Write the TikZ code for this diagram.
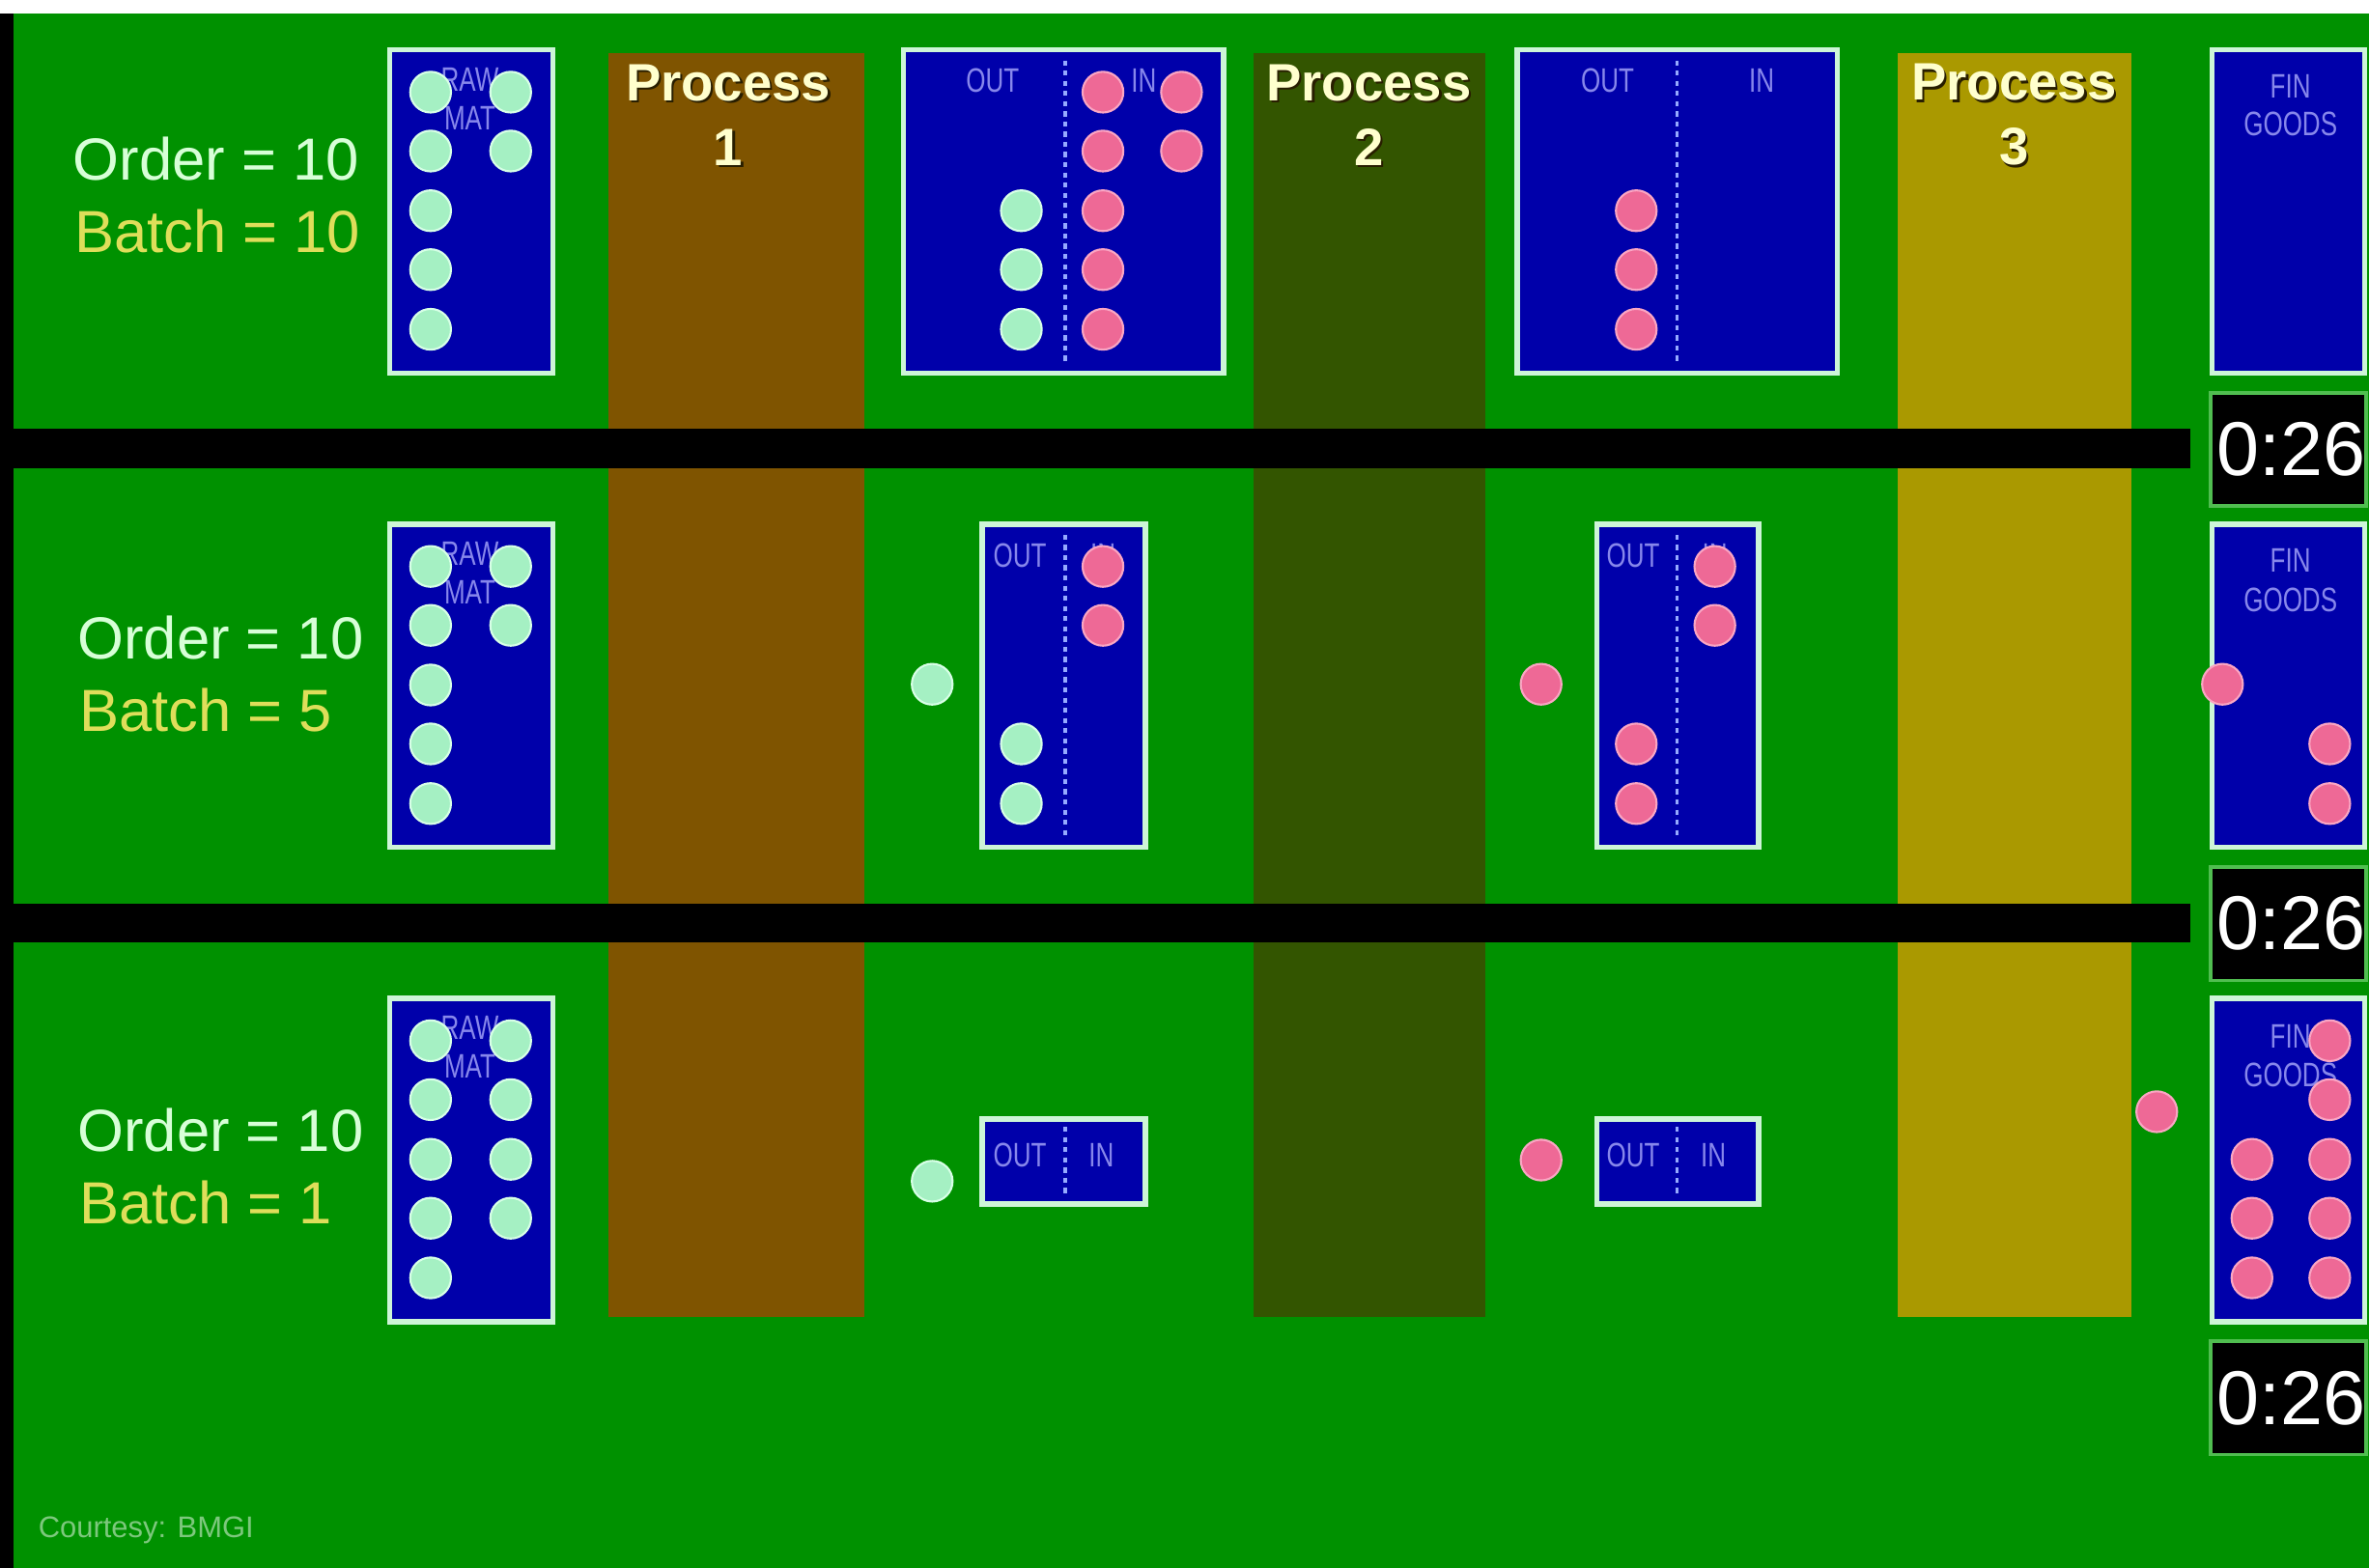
\documentclass[tikz,border=0pt]{standalone}
\usepackage{fontspec}
\setmainfont{Liberation Sans}
\definecolor{bggreen}{RGB}{0,145,0}
\definecolor{procA}{RGB}{127,84,0}
\definecolor{procB}{RGB}{51,85,0}
\definecolor{procC}{RGB}{170,153,0}
\definecolor{boxblue}{RGB}{0,0,170}
\definecolor{boxedge}{RGB}{205,245,215}
\definecolor{dotgreen}{RGB}{165,240,195}
\definecolor{dotgreenedge}{RGB}{215,255,230}
\definecolor{dotpink}{RGB}{238,105,150}
\definecolor{dotpinkedge}{RGB}{250,165,195}
\definecolor{labelblue}{RGB}{135,135,235}
\definecolor{divblue}{RGB}{150,170,255}
\definecolor{ordertext}{RGB}{215,255,215}
\definecolor{batchtext}{RGB}{222,222,90}
\definecolor{proctext}{RGB}{255,255,205}
\definecolor{procshadow}{RGB}{40,30,0}
\definecolor{timeredge}{RGB}{80,190,80}
\definecolor{courtesytext}{RGB}{125,200,125}
\begin{document}
\begin{tikzpicture}[x=0.015644cm,y=-0.015644cm,
  gdot/.style={circle,fill=dotgreen,draw=dotgreenedge,line width=0.6pt,minimum size=12pt,inner sep=0pt},
  pdot/.style={circle,fill=dotpink,draw=dotpinkedge,line width=0.6pt,minimum size=12pt,inner sep=0pt},
  binbox/.style={fill=boxblue,draw=boxedge,line width=1.6pt},
  divline/.style={draw=divblue,line width=1pt,dash pattern=on 1.5pt off 1.5pt},
  lbl/.style={text=labelblue,font=\fontsize{10}{10}\selectfont,inner sep=0pt},
  proc/.style={text=proctext,font=\bfseries\fontsize{15.5}{19.1}\selectfont,align=center,inner sep=0pt},
  procsh/.style={proc,text=procshadow},
  ordlbl/.style={text=ordertext,font=\fontsize{17.5}{17.5}\selectfont,anchor=west,inner sep=0pt},
  batlbl/.style={ordlbl,text=batchtext},
  timerbox/.style={fill=black,draw=timeredge,line width=1pt},
  timertext/.style={text=white,font=\fontsize{22.5}{22.5}\selectfont,anchor=west,inner sep=0pt},
  courtesy/.style={text=courtesytext,font=\fontsize{8.8}{8.8}\selectfont,anchor=west,inner sep=0pt}
]
\useasboundingbox (0,0) rectangle (1568,1038);
\clip (0,0) rectangle (1568,1038);
% background
\fill[bggreen] (0,0) rectangle (1568,1038);
\fill[white] (0,0) rectangle (1568,9);
\fill[black] (0,9) rectangle (9,1038);
% process columns
\fill[procA] (403,35) rectangle (572,872);
\fill[procB] (830,35) rectangle (983,872);
\fill[procC] (1256,35) rectangle (1411,872);
\node[procsh] (p1s) at (483.5,77.5) {Process\\1};
\node[proc] (p1) at (482,76) {Process\\1};
\node[procsh] (p2s) at (907.5,77.5) {Process\\2};
\node[proc] (p2) at (906,76) {Process\\2};
\node[procsh] (p3s) at (1334.5,77.5) {Process\\3};
\node[proc] (p3) at (1333,76) {Process\\3};
% separator bars
\fill[black] (0,284) rectangle (1450,310);
\fill[black] (0,598) rectangle (1450,624);

% ---------------- Row 1 ----------------
\node[ordlbl] (o1) at (48,105) {Order = 10};
\node[batlbl] (b1) at (49,153) {Batch = 10};
\draw[binbox] (258,33) rectangle (366,247);
\node[lbl] (raw1a) at (311,52.5) {\scalebox{0.74}[1]{RAW}};
\node[lbl] (raw1b) at (311,78) {\scalebox{0.74}[1]{MAT}};
\draw[binbox] (598,33) rectangle (810,247);
\draw[divline] (705,40) -- (705,241);
\node[lbl] (w11out) at (657,53) {\scalebox{0.74}[1]{OUT}};
\node[lbl] (w11in) at (757,53) {\scalebox{0.74}[1]{IN}};
\draw[binbox] (1004,33) rectangle (1216,247);
\draw[divline] (1110,40) -- (1110,241);
\node[lbl] (w12out) at (1064,53) {\scalebox{0.74}[1]{OUT}};
\node[lbl] (w12in) at (1166,53) {\scalebox{0.74}[1]{IN}};
\draw[binbox] (1464,33) rectangle (1565,247);
\node[lbl] (fin1a) at (1516,57) {\scalebox{0.74}[1]{FIN}};
\node[lbl] (fin1b) at (1516,82) {\scalebox{0.74}[1]{GOODS}};
\draw[timerbox] (1463,260) rectangle (1566,335);
\node[timertext] (t1) at (1467,297.5) {0:26};
\foreach \y [count=\i] in {61,100,139.5,178.5,218} {
  \node[gdot] (r1g\i) at (285,\y) {};
  \node[pdot] (r1w\i) at (730,\y) {};
}
\node[gdot] (r1g6) at (338,61) {};
\node[gdot] (r1g7) at (338,100) {};
\node[pdot] (r1w6) at (782,61) {};
\node[pdot] (r1w7) at (782,100) {};
\foreach \y [count=\i] in {139.5,178.5,218} {
  \node[gdot] (r1o\i) at (676,\y) {};
  \node[pdot] (r1v\i) at (1083,\y) {};
}

% ---------------- Row 2 ----------------
\node[ordlbl] (o2) at (51,422) {Order = 10};
\node[batlbl] (b2) at (52,470) {Batch = 5};
\draw[binbox] (258,347) rectangle (366,561);
\node[lbl] (raw2a) at (311,366.5) {\scalebox{0.74}[1]{RAW}};
\node[lbl] (raw2b) at (311,392) {\scalebox{0.74}[1]{MAT}};
\draw[binbox] (650,347) rectangle (758,561);
\draw[divline] (705,354) -- (705,555);
\node[lbl] (w21out) at (675,368) {\scalebox{0.74}[1]{OUT}};
\node[lbl] (w21in) at (730,368) {\scalebox{0.74}[1]{IN}};
\draw[binbox] (1057,347) rectangle (1164,561);
\draw[divline] (1110,354) -- (1110,555);
\node[lbl] (w22out) at (1081,368) {\scalebox{0.74}[1]{OUT}};
\node[lbl] (w22in) at (1135,368) {\scalebox{0.74}[1]{IN}};
\draw[binbox] (1464,347) rectangle (1565,561);
\node[lbl] (fin2a) at (1516,371) {\scalebox{0.74}[1]{FIN}};
\node[lbl] (fin2b) at (1516,397) {\scalebox{0.74}[1]{GOODS}};
\draw[timerbox] (1463,574) rectangle (1566,649);
\node[timertext] (t2) at (1467,611.5) {0:26};
\foreach \y [count=\i] in {375,414,453.5,492.5,532} {
  \node[gdot] (r2g\i) at (285,\y) {};
}
\node[gdot] (r2g6) at (338,375) {};
\node[gdot] (r2g7) at (338,414) {};
\node[gdot] (r2loose) at (617,453) {};
\node[pdot] (r2w1) at (730,375) {};
\node[pdot] (r2w2) at (730,414) {};
\node[gdot] (r2o1) at (676,492.5) {};
\node[gdot] (r2o2) at (676,532) {};
\node[pdot] (r2p1) at (1020,453) {};
\node[pdot] (r2v1) at (1135,375) {};
\node[pdot] (r2v2) at (1135,414) {};
\node[pdot] (r2v3) at (1083,492.5) {};
\node[pdot] (r2v4) at (1083,532) {};
\node[pdot] (r2p2) at (1471,453) {};
\node[pdot] (r2f1) at (1542,492.5) {};
\node[pdot] (r2f2) at (1542,532) {};

% ---------------- Row 3 ----------------
\node[ordlbl] (o3) at (51,748) {Order = 10};
\node[batlbl] (b3) at (52,796) {Batch = 1};
\draw[binbox] (258,661) rectangle (366,875);
\node[lbl] (raw3a) at (311,680.5) {\scalebox{0.74}[1]{RAW}};
\node[lbl] (raw3b) at (311,706) {\scalebox{0.74}[1]{MAT}};
\draw[binbox] (650,741) rectangle (758,797);
\draw[divline] (705,746) -- (705,792);
\node[lbl] (w31out) at (675,765) {\scalebox{0.74}[1]{OUT}};
\node[lbl] (w31in) at (729,765) {\scalebox{0.74}[1]{IN}};
\draw[binbox] (1057,741) rectangle (1164,797);
\draw[divline] (1110,746) -- (1110,792);
\node[lbl] (w32out) at (1081,765) {\scalebox{0.74}[1]{OUT}};
\node[lbl] (w32in) at (1134,765) {\scalebox{0.74}[1]{IN}};
\draw[binbox] (1464,661) rectangle (1565,875);
\node[lbl] (fin3a) at (1516,686) {\scalebox{0.74}[1]{FIN}};
\node[lbl] (fin3b) at (1516,712) {\scalebox{0.74}[1]{GOODS}};
\draw[timerbox] (1463,888) rectangle (1566,963);
\node[timertext] (t3) at (1467,926) {0:26};
\foreach \y [count=\i] in {689,728,767.5,806.5,846} {
  \node[gdot] (r3g\i) at (285,\y) {};
  \node[pdot] (r3f\i) at (1542,\y) {};
}
\foreach \y [count=\i] in {689,728,767.5,806.5} {
  \node[gdot] (r3h\i) at (338,\y) {};
}
\foreach \y [count=\i] in {767.5,806.5,846} {
  \node[pdot] (r3e\i) at (1490.5,\y) {};
}
\node[gdot] (r3loose) at (617,782) {};
\node[pdot] (r3p1) at (1020,768) {};
\node[pdot] (r3p2) at (1427.5,736) {};

% credit
\node[courtesy] (cred) at (25,1013) {Courtesy: BMGI};
\end{tikzpicture}
\end{document}
